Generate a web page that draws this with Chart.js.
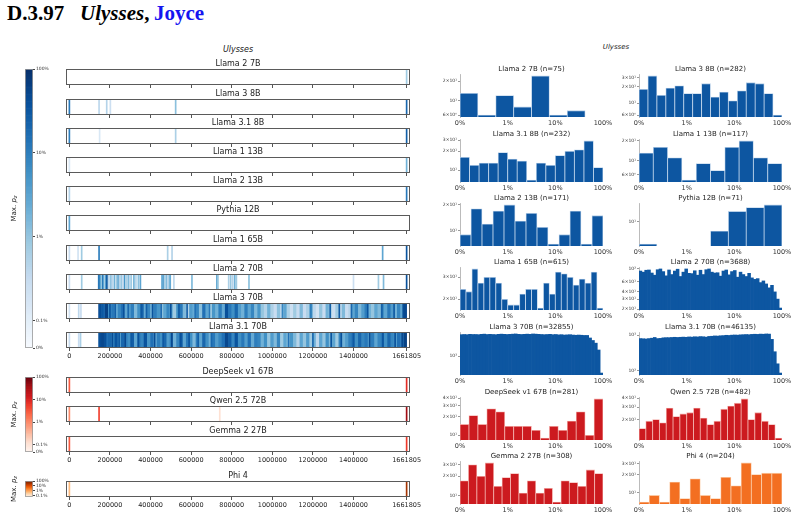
<!DOCTYPE html>
<html>
<head>
<meta charset="utf-8">
<title>Ulysses, Joyce</title>
<script src="https://cdn.jsdelivr.net/npm/chart.js@4.4.1/dist/chart.umd.min.js"></script>
<style>
  body { margin: 0; background: #fff; }
  #page { position: relative; width: 797px; height: 519px; overflow: hidden; font-family: "DejaVu Sans", sans-serif; }
  #page canvas { position: absolute; }
  .hd { position: absolute; top: 3px; font: bold 21px/21px "Liberation Serif", serif; white-space: nowrap; }
  .sub { position: absolute; font-style: italic; color: #222; transform: translate(-50%, -50%); white-space: nowrap; }
</style>
</head>
<body>
<div id="page">
  <span class="hd" style="left:7px">D.3.97</span>
  <span class="hd" style="left:80px"><i>Ulysses</i>,</span>
  <span class="hd" style="left:154px;color:#1515f0">Joyce</span>
  <div class="sub" style="left:238px;top:49px;font-size:8px">Ulysses</div>
  <div class="sub" style="left:616px;top:47px;font-size:7px">Ulysses</div>
</div>
<script>
// ---------- data ----------
var TEXT_LEN = 1661805;
var HIT_W = 5000;        // chars covered by one isolated hit
var WIN_W = 16000;       // chars per window in the dense 70B strips
var DENSE_START = 144000;

var stripTicks = [0, 200000, 400000, 600000, 800000, 1000000, 1200000, 1400000, 1661805];

// isolated hits: [char offset, max p_z in %]
var hitsLlama27B = [[1661805, 0.8]];
var hitsLlama38B = [[0, 12], [146300, 0.4], [184000, 0.5], [202000, 0.25], [523700, 1.2], [1661805, 20]];
var hitsLlama318B = [[0, 10], [149000, 0.15], [523700, 0.6], [1661805, 25]];
var hitsLlama113B = [[0, 0.15], [1661805, 2]];
var hitsLlama213B = [[0, 0.5], [1661805, 12]];
var hitsPythia12B = [[0, 3]];
var hitsLlama165B = [[0, 0.3], [42800, 0.2], [60600, 0.8], [146300, 10], [484300, 0.6], [505900, 0.5], [1543600, 3], [1661805, 35]];
var hitsLlama270B = [
  [0, 0.3], [60800, 0.8],
  [144500, 8], [148000, 20], [152000, 5], [156000, 2], [160000, 1], [165000, 12], [170000, 3], [175000, 0.6], [180000, 4], [185000, 30],
  [195000, 0.5], [205000, 1.5], [212000, 0.4], [222000, 2], [232000, 0.8], [240000, 3], [248000, 0.5], [256000, 1], [263000, 0.3],
  [272000, 5], [280000, 0.6], [290000, 1.5], [298000, 0.4], [305000, 0.8], [318000, 2], [328000, 0.5], [340000, 1.2], [350000, 3],
  [456000, 2], [462000, 4], [470000, 0.6], [478000, 1.5], [485000, 0.4], [492000, 1], [497000, 2.5], [515000, 0.4],
  [604000, 1.5], [727000, 3], [732000, 1], [785000, 0.6], [795000, 1], [805000, 0.5], [815000, 2], [823000, 0.8], [885000, 1.2],
  [1400000, 0.25], [1523000, 0.8], [1548000, 1.5], [1661805, 40]
];
var hitsLlama370B = [
  [0, 0.2], [46000, 0.4], [57000, 0.3],
  [150000, 40], [165000, 30], [200000, 35], [226000, 25], [268000, 40], [290000, 20], [355000, 30], [380000, 25],
  [410000, 35], [452000, 20], [500000, 40], [540000, 30], [580000, 25], [620000, 15], [690000, 12], [745000, 10],
  [1050000, 8], [1190000, 10], [1285000, 25], [1330000, 30], [1390000, 20], [1470000, 35], [1540000, 25], [1600000, 30], [1645000, 45]
];
var hitsLlama3170B = [
  [0, 0.3], [46000, 0.3], [55000, 0.6],
  [158000, 50], [178000, 40], [212000, 45], [245000, 35], [275000, 50], [305000, 30], [340000, 40], [372000, 35],
  [420000, 45], [462000, 30], [505000, 50], [548000, 40], [590000, 35], [635000, 25], [700000, 20], [760000, 15],
  [1080000, 15], [1200000, 20], [1290000, 35], [1340000, 40], [1400000, 30], [1480000, 45], [1545000, 35], [1605000, 40], [1640000, 50]
];
var hitsDeepSeek67B = [[0, 3], [1661805, 8]];
var hitsQwen72B = [[0, 1], [146300, 5], [741000, 0.12], [1661805, 40]];
var hitsGemma27B = [[0, 3], [1661805, 6]];
var hitsPhi4 = [[0, 0.6], [1661805, 40]];

// dense strips: max p_z (%) per window from DENSE_START
var denseLlama370B = [
  50, 15, 60, 6, 12, 2.5, 8, 15, 3, 4, 10, 1.5, 6, 20, 2.5, 8, 2, 10, 5, 1.2,
  3, 8, 2, 0.8, 6, 12, 1.5, 0.5, 4, 2.5, 8, 1.2, 15, 3, 0.8, 5, 2, 10, 2.5, 40,
  12, 6, 20, 4, 2, 10, 3, 8, 1.5, 5, 1, 0.5, 2, 0.6, 0.3, 1.2, 0.4, 3, 0.6, 0.25,
  0.8, 0.3, 1.5, 0.3, 0.6, 4, 0.4, 0.2, 1, 0.3, 2, 0.6, 0.25, 0.8, 0.4, 1.5, 0.3, 0.5, 3, 8,
  1.5, 4, 10, 2, 1, 3, 1.5, 6, 3, 12, 4, 2, 8, 3, 50
];
var denseLlama3170B = [
  40, 50, 15, 20, 8, 35, 4, 20, 10, 6, 25, 3, 12, 8, 35, 5, 15, 2.5, 10, 6,
  20, 4, 10, 2, 8, 25, 3, 12, 6, 1.5, 10, 3, 20, 6, 2, 12, 4, 8, 15, 50,
  25, 8, 35, 6, 12, 4, 15, 2.5, 10, 8, 2, 6, 1, 4, 1.5, 8, 0.8, 3, 1.2, 5,
  1.5, 0.5, 3, 1, 4, 0.8, 2, 0.4, 3, 1, 6, 1.5, 3, 0.8, 8, 2, 4, 10, 15, 6,
  20, 8, 12, 4, 10, 3, 8, 12, 6, 20, 8, 4, 15, 10, 60
];

// histogram counts per log bin, 0% .. 100%
var histLlama27B = [13, 6, 12, 8, 24, 6, 7, 0];
var histLlama38B = [18, 32, 14, 19, 21, 15, 15, 23, 13, 16, 11, 17, 24, 23, 15, 6];
var histLlama318B = [16, 12, 13, 13, 19, 15, 14, 7, 13, 12, 17, 20, 21, 29, 11];
var histLlama113B = [13, 16, 11, 5, 9, 7, 16, 20, 11, 9];
var histLlama213B = [9, 18, 12, 17, 20, 13, 16, 11, 7, 9, 17, 7, 15];
var histPythia12B = [3, 0, 0, 0, 6, 17, 21, 24];
var histLlama165B = [24, 23, 35, 27, 30, 30, 27, 20, 18, 18, 22, 24, 24, 17, 27, 22, 33, 32, 30, 26, 29, 27, 33, 17];
var histLlama270B = [
  92, 88, 95, 96, 85, 78, 97, 100, 90, 76, 96, 80, 92, 99, 74, 88, 100, 84, 83, 93,
  78, 95, 80, 97, 100, 88, 85, 86, 75, 92, 96, 79, 90, 94, 72, 88, 80, 74, 84, 70,
  66, 68, 58, 62, 55, 47, 52, 40, 30, 21
];
var histLlama370B = [
  4100, 4150, 4100, 4200, 4150, 4150, 4100, 4200, 4250, 4150, 4200, 4150, 4100, 4200, 4250, 4200, 4150, 4200, 4250, 4300,
  4200, 4150, 4200, 4250, 4200, 4300, 4250, 4200, 4150, 4100, 4150, 4200, 4100, 4150, 4050, 4100, 4000, 4050, 4100, 4000,
  3950, 4000, 3950, 3900, 3900, 3300, 2800, 2350, 1500, 330
];
var histLlama3170B = [
  800, 790, 780, 800, 820, 860, 800, 810, 840, 850, 850, 860, 870, 860, 870, 880, 870, 890, 880, 900,
  890, 910, 900, 880, 920, 930, 950, 940, 960, 970, 990, 980, 1000, 1010, 1000, 1020, 1030, 1040, 1030, 1050,
  1060, 1050, 1070, 1060, 1080, 1070, 760, 340, 155, 85
];
var histDeepSeek67B = [15, 21, 15, 27, 24, 14, 14, 14, 12, 9, 14, 12, 17, 24, 10, 39];
var histQwen72B = [15, 19, 20, 18, 29, 22, 24, 25, 29, 21, 17, 19, 28, 31, 34, 39, 20, 25, 19, 17, 11];
var histGemma27B = [17, 30, 20, 32, 14, 19, 22, 11, 17, 11, 13, 8, 17, 16, 14, 25, 22];
var histPhi4 = [7, 9, 7, 15, 8, 17, 9, 8, 18, 13, 31, 20, 21, 21];

var histXTicks = [-1, 0, 1, 2];
var histXLabels = ['0%', '1%', '10%', '100%'];

// ---------- colour maps ----------
var BLUES = ['#f7fbff', '#deebf7', '#c6dbef', '#9ecae1', '#6baed6', '#4292c6', '#2171b5', '#08519c', '#08306b'];
var REDS = ['#fff5f0', '#fee0d2', '#fcbba1', '#fc9272', '#fb6a4a', '#ef3b2c', '#cb181d', '#a50f15', '#67000d'];
var ORANGES = ['#fff5eb', '#fee6ce', '#fdd0a2', '#fdae6b', '#fd8d3c', '#f16913', '#d94801', '#a63603', '#7f2704'];
var LIN = 0.097;   // share of the bar used by the 0..0.1% linear part

function normT(v) {
  if (v <= 0) return 0;
  if (v < 0.1) return v / 0.1 * LIN;
  return Math.min(1, LIN + Math.log10(v / 0.1) * (1 - LIN) / 3);
}
function hexRgb(h) { return [parseInt(h.substr(1, 2), 16), parseInt(h.substr(3, 2), 16), parseInt(h.substr(5, 2), 16)]; }
function cmap(stops, t) {
  t = Math.max(0, Math.min(1, t));
  var p = t * (stops.length - 1), i = Math.min(Math.floor(p), stops.length - 2), f = p - i;
  var a = hexRgb(stops[i]), b = hexRgb(stops[i + 1]);
  return 'rgb(' + [0, 1, 2].map(function (k) { return Math.round(a[k] + (b[k] - a[k]) * f); }).join(',') + ')';
}
var SUP = { '0': '⁰', '1': '¹', '2': '²', '3': '³', '4': '⁴' };
function sciLabel(v) {
  var e = Math.floor(Math.log10(v) + 1e-9), m = Math.round(v / Math.pow(10, e));
  var ex = String(e).split('').map(function (ch) { return SUP[ch]; }).join('');
  return (m === 1 ? '' : m + '×') + '10' + ex;
}

// ---------- helpers ----------
Chart.defaults.font.family = '"DejaVu Sans", sans-serif';
Chart.defaults.color = '#333';
var page = document.getElementById('page');

function addCanvas(left, top, w, h) {
  var c = document.createElement('canvas');
  c.width = w; c.height = h;
  c.style.left = left + 'px'; c.style.top = top + 'px';
  c.style.width = w + 'px'; c.style.height = h + 'px';
  page.appendChild(c);
  return c;
}

var framePlugin = {
  id: 'frame',
  afterDatasetsDraw: function (chart, args, opts) {
    if (!opts.color) return;
    var a = chart.chartArea, ctx = chart.ctx;
    ctx.save();
    ctx.strokeStyle = opts.color; ctx.lineWidth = opts.width || 1;
    ctx.strokeRect(a.left + 0.5, a.top + 0.5, a.right - a.left - 1, a.bottom - a.top - 1);
    ctx.restore();
  }
};
var headPlugin = {
  id: 'head',
  afterDraw: function (chart, args, opts) {
    if (!opts.text) return;
    var a = chart.chartArea, ctx = chart.ctx;
    ctx.save();
    ctx.font = opts.size + 'px "DejaVu Sans"'; ctx.fillStyle = '#222';
    ctx.textAlign = 'center'; ctx.textBaseline = 'middle';
    ctx.fillText(opts.text, (a.left + a.right) / 2, a.top - opts.gap);
    ctx.restore();
  }
};
var zLabelPlugin = {
  id: 'zlabel',
  afterDraw: function (chart) {
    var a = chart.chartArea, ctx = chart.ctx;
    var f = '7px "DejaVu Sans"', fi = 'italic 7px "DejaVu Sans"', fs = 'italic 5px "DejaVu Sans"';
    ctx.save();
    ctx.translate(14, (a.top + a.bottom) / 2);
    ctx.rotate(-Math.PI / 2);
    ctx.fillStyle = '#222'; ctx.textBaseline = 'middle'; ctx.textAlign = 'left';
    ctx.font = f; var w1 = ctx.measureText('Max. ').width;
    ctx.font = fi; var w2 = ctx.measureText('p').width;
    ctx.font = fs; var w3 = ctx.measureText('z').width;
    var x = -(w1 + w2 + w3) / 2;
    ctx.font = f; ctx.fillText('Max. ', x, 0);
    ctx.font = fi; ctx.fillText('p', x + w1, 0);
    ctx.font = fs; ctx.fillText('z', x + w1 + w2, 2);
    ctx.restore();
  }
};

// ---------- strips ----------
function stripChart(name, hits, dense, stops, top, labels) {
  var L = 66, W = 344, H = 16, padTop = 12, padL = 6, padR = 14, xh = labels ? 12 : 4;
  var c = addCanvas(L - padL, top - padTop, padL + W + padR, padTop + H + xh);
  var pts = [];
  (dense || []).forEach(function (v, i) {
    var s = DENSE_START + i * WIN_W;
    pts.push({ x: [s, Math.min(s + WIN_W, TEXT_LEN)], y: 's', v: v });
  });
  hits.forEach(function (h) {
    pts.push({ x: [h[0] - HIT_W / 2, h[0] + HIT_W / 2], y: 's', v: h[1] });
  });
  new Chart(c, {
    type: 'bar',
    data: {
      labels: ['s'],
      datasets: [{
        data: pts,
        backgroundColor: function (ctx) { return ctx.raw ? cmap(stops, normT(ctx.raw.v)) : '#fff'; },
        borderWidth: 0, barPercentage: 1, categoryPercentage: 1
      }]
    },
    options: {
      indexAxis: 'y', responsive: false, animation: false, events: [],
      layout: { autoPadding: false, padding: { top: padTop, left: padL, right: padR, bottom: 0 } },
      plugins: {
        legend: { display: false }, tooltip: { enabled: false },
        frame: { color: '#5a5a5a', width: 1 },
        head: { text: name, size: 8, gap: 5 }
      },
      scales: {
        y: { display: false },
        x: {
          type: 'linear', min: -TEXT_LEN * 0.01, max: TEXT_LEN * 1.01,
          afterBuildTicks: function (s) { s.ticks = stripTicks.map(function (v) { return { value: v }; }); },
          afterFit: function (s) { s.height = xh; },
          grid: { drawOnChartArea: false, drawTicks: true, tickLength: 3, color: '#555' },
          border: { display: false },
          ticks: {
            display: labels, font: { size: 6.5 }, color: '#222', padding: 1,
            maxRotation: 0, autoSkip: false,
            callback: function (v) { return String(v); }
          }
        }
      }
    },
    plugins: [framePlugin, headPlugin]
  });
}

// ---------- colour bars ----------
var CB_STEPS = 120;
function colorBar(stops, top, H, vals, txt) {
  var L = 25, W = 8, pad = 16, axisW = 22;
  var c = addCanvas(0, top - pad, L + W + axisW, pad + H + pad);
  var pts = [];
  for (var k = 0; k < CB_STEPS; k++) pts.push({ x: 'c', y: [k / CB_STEPS, (k + 1) / CB_STEPS] });
  new Chart(c, {
    type: 'bar',
    data: {
      labels: ['c'],
      datasets: [{
        data: pts,
        backgroundColor: function (ctx) { return cmap(stops, (ctx.dataIndex + 0.5) / CB_STEPS); },
        borderWidth: 0, barPercentage: 1, categoryPercentage: 1
      }]
    },
    options: {
      responsive: false, animation: false, events: [],
      layout: { autoPadding: false, padding: { top: pad, bottom: pad, left: L, right: 0 } },
      plugins: { legend: { display: false }, tooltip: { enabled: false }, frame: { color: '#999', width: 0.8 } },
      scales: {
        x: { display: false },
        y: {
          position: 'right', min: 0, max: 1,
          afterBuildTicks: function (s) { s.ticks = vals.map(function (v) { return { value: normT(v) }; }); },
          afterFit: function (s) { s.width = axisW; },
          grid: { drawOnChartArea: false, drawTicks: true, tickLength: 2, color: '#444' },
          border: { display: false },
          ticks: {
            font: { size: 4.5 }, color: '#333', padding: 1, autoSkip: false,
            callback: function (v, i) { return txt[i]; }
          }
        }
      }
    },
    plugins: [framePlugin, zLabelPlugin]
  });
}

// ---------- histograms ----------
var HIST_TOPS = [74, 139, 203, 267, 332, 397, 461];
function histChart(name, n, counts, yTicks, color, edge, col, row) {
  var L = col === 0 ? 460 : 639, T = HIST_TOPS[row], W = 143, H = 43, yw = 24, xh = 10, padTop = 12, padR = 12;
  var c = addCanvas(L - yw, T - padTop, yw + W + padR, padTop + H + xh);
  var nb = counts.length;
  var pts = counts.map(function (v, i) { return { x: -1 + (i + 0.5) * 3 / nb, y: v > 0 ? v : null }; });
  var pos = counts.filter(function (v) { return v > 0; });
  var lo = Math.log10(Math.min.apply(null, pos)), hi = Math.log10(Math.max.apply(null, pos)), m = (hi - lo) * 0.05;
  var dense = nb >= 40;
  new Chart(c, {
    type: 'bar',
    data: {
      datasets: [{
        data: pts, backgroundColor: color, borderColor: edge,
        borderWidth: dense ? 0 : 0.8, borderSkipped: 'bottom',
        barPercentage: 1, categoryPercentage: 1
      }]
    },
    options: {
      responsive: false, animation: false, events: [],
      layout: { autoPadding: false, padding: { top: padTop, left: 0, right: padR, bottom: 0 } },
      plugins: {
        legend: { display: false }, tooltip: { enabled: false },
        head: { text: name + ' (n=' + n + ')', size: 7, gap: 5 }
      },
      scales: {
        x: {
          type: 'linear', min: -1, max: 2, offset: false,
          afterBuildTicks: function (s) { s.ticks = histXTicks.map(function (v) { return { value: v }; }); },
          afterFit: function (s) { s.height = xh; },
          grid: { display: false, drawTicks: false },
          border: { display: false },
          ticks: {
            font: { size: 6.5 }, color: '#333', padding: 2, maxRotation: 0, autoSkip: false,
            callback: function (v, i) { return histXLabels[i]; }
          }
        },
        y: {
          type: 'logarithmic', beginAtZero: false,
          min: Math.pow(10, lo - m), max: Math.pow(10, hi + m),
          afterBuildTicks: function (s) { s.ticks = yTicks.map(function (v) { return { value: v }; }); },
          afterFit: function (s) { s.width = yw; },
          grid: { drawOnChartArea: false, drawTicks: true, tickLength: 2, color: '#999' },
          border: { display: true, color: '#aaa', width: 0.8 },
          ticks: {
            font: { size: 4.5 }, color: '#333', padding: 1, autoSkip: false,
            callback: function (v) { return sciLabel(v); }
          }
        }
      }
    },
    plugins: [headPlugin]
  });
}

// ---------- build ----------
var blueStrips = [
  ['Llama 2 7B', hitsLlama27B, null], ['Llama 3 8B', hitsLlama38B, null], ['Llama 3.1 8B', hitsLlama318B, null],
  ['Llama 1 13B', hitsLlama113B, null], ['Llama 2 13B', hitsLlama213B, null], ['Pythia 12B', hitsPythia12B, null],
  ['Llama 1 65B', hitsLlama165B, null], ['Llama 2 70B', hitsLlama270B, null],
  ['Llama 3 70B', hitsLlama370B, denseLlama370B], ['Llama 3.1 70B', hitsLlama3170B, denseLlama3170B]
];
var blueTops = [69, 99, 128, 157, 186, 215, 245, 274, 303, 332];
blueStrips.forEach(function (s, i) { stripChart(s[0], s[1], s[2], BLUES, blueTops[i], i === blueStrips.length - 1); });

var redStrips = [['DeepSeek v1 67B', hitsDeepSeek67B], ['Qwen 2.5 72B', hitsQwen72B], ['Gemma 2 27B', hitsGemma27B]];
var redTops = [377, 406, 436];
redStrips.forEach(function (s, i) { stripChart(s[0], s[1], null, REDS, redTops[i], i === redStrips.length - 1); });
stripChart('Phi 4', hitsPhi4, null, ORANGES, 481, true);

colorBar(BLUES, 69, 279, [0, 0.1, 1, 10, 100], ['0%', '0.1%', '1%', '10%', '100%']);
colorBar(REDS, 377, 75, [0, 0.1, 1, 10, 100], ['0%', '0.1%', '1%', '10%', '100%']);
colorBar(ORANGES, 481, 16, [0.1, 1, 10, 100], ['0.1%', '1%', '10%', '100%']);

var BLUE = '#0d56a1', BLUE_EDGE = '#b7cfe8';
var RED = '#cc1a1f', RED_EDGE = '#f2aaa6';
var ORANGE = '#f36f21', ORANGE_EDGE = '#fbc8a2';
var hists = [
  ['Llama 2 7B', 75, histLlama27B, [6, 10, 20], BLUE, BLUE_EDGE],
  ['Llama 3 8B', 282, histLlama38B, [6, 10, 20, 30], BLUE, BLUE_EDGE],
  ['Llama 3.1 8B', 232, histLlama318B, [10, 20, 30], BLUE, BLUE_EDGE],
  ['Llama 1 13B', 117, histLlama113B, [6, 10, 20], BLUE, BLUE_EDGE],
  ['Llama 2 13B', 171, histLlama213B, [10, 20], BLUE, BLUE_EDGE],
  ['Pythia 12B', 71, histPythia12B, [10], BLUE, BLUE_EDGE],
  ['Llama 1 65B', 615, histLlama165B, [20, 30], BLUE, BLUE_EDGE],
  ['Llama 2 70B', 3688, histLlama270B, [20, 30, 40, 60, 100], BLUE, BLUE_EDGE],
  ['Llama 3 70B', 32855, histLlama370B, [1000], BLUE, BLUE_EDGE],
  ['Llama 3.1 70B', 46135, histLlama3170B, [100, 1000], BLUE, BLUE_EDGE],
  ['DeepSeek v1 67B', 281, histDeepSeek67B, [10, 20, 30, 40], RED, RED_EDGE],
  ['Qwen 2.5 72B', 482, histQwen72B, [20, 30, 40], RED, RED_EDGE],
  ['Gemma 2 27B', 308, histGemma27B, [10, 20, 30], RED, RED_EDGE],
  ['Phi 4', 204, histPhi4, [10, 20, 30], ORANGE, ORANGE_EDGE]
];
hists.forEach(function (h, i) { histChart(h[0], h[1], h[2], h[3], h[4], h[5], i % 2, Math.floor(i / 2)); });
</script>
</body>
</html>
